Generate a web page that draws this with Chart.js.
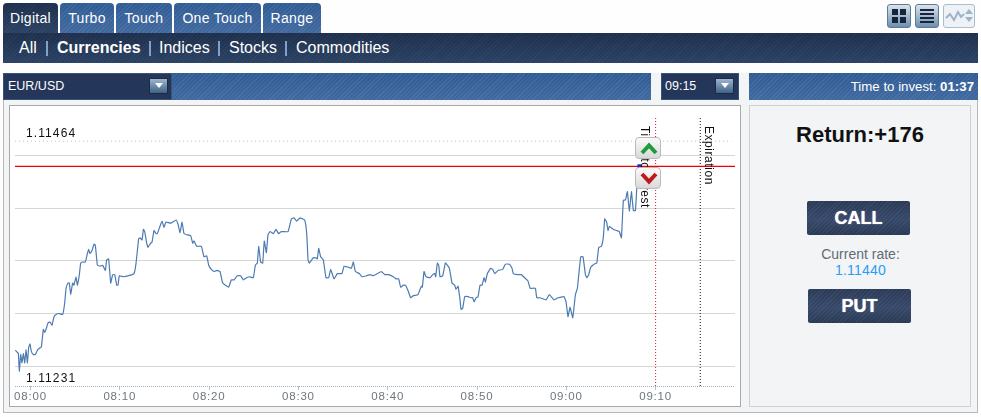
<!DOCTYPE html>
<html>
<head>
<meta charset="utf-8">
<script src="https://cdn.jsdelivr.net/npm/chart.js@4/dist/chart.umd.min.js"></script>
<style>
html, body { margin: 0; padding: 0; }
body { width: 981px; height: 417px; overflow: hidden; position: relative; background: #fefefe; font-family: "Liberation Sans", Arial, sans-serif; }
.abs { position: absolute; box-sizing: border-box; }
.stripe-blue { background: repeating-linear-gradient(135deg, rgba(255,255,255,.07) 0 1px, transparent 1px 3px), linear-gradient(#2f5c95, #41699f); }
.stripe-dark { background: repeating-linear-gradient(135deg, rgba(255,255,255,.035) 0 1px, transparent 1px 3px), linear-gradient(#1d2f4c, #2b4264); }
.tab { top: 3px; height: 30px; border-radius: 4px 4px 0 0; color: #fff; font-size: 14px; line-height: 30px; text-align: center; letter-spacing: .3px; }
.nav { top: 37px; color: #fff; font-size: 16px; line-height: 21px; white-space: nowrap; }
.sep { top: 41px; width: 2px; height: 15px; background: #7ea2c9; }
.drop { width: 19px; height: 16px; background: linear-gradient(#9db6cf, #3f6287); border: 1px solid #1b2b44; }
.drop:after { content: ""; position: absolute; left: 5px; top: 4px; border: 4px solid transparent; border-top: 5px solid #fff; border-bottom: 0; }
.icon { top: 4px; height: 24px; border-radius: 3px; border: 1px solid #5d7a98; background: linear-gradient(#dbe4ed, #6f8fae); }
.btn { width: 103px; height: 34px; border-radius: 2px; color: #fff; font-weight: bold; font-size: 18px; line-height: 34px; text-align: center; background: repeating-linear-gradient(135deg, rgba(255,255,255,.05) 0 1px, transparent 1px 3px), linear-gradient(#2b3b57, #37496a 55%, #2a3a55); text-shadow: 0 0 1px #fff; }
.arrow { left: 635px; width: 26px; height: 22px; border-radius: 4px; border: 1px solid #bbb; background: linear-gradient(#fafafa, #d9d9d9); }
.arrow svg { position: absolute; left: 4px; top: 3px; }
</style>
</head>
<body>
<div class="abs tab stripe-dark" style="left:3px;width:55px">Digital</div>
<div class="abs tab stripe-blue" style="left:60px;width:54px">Turbo</div>
<div class="abs tab stripe-blue" style="left:116px;width:56px">Touch</div>
<div class="abs tab stripe-blue" style="left:174px;width:87px">One Touch</div>
<div class="abs tab stripe-blue" style="left:263px;width:58px">Range</div>

<div class="abs icon" style="left:887px;width:24px"><svg width="22" height="22"><path d="M4 4h6v6H4zM12 4h6v6h-6zM4 12h6v6H4zM12 12h6v6h-6z" fill="#16243c"/></svg></div>
<div class="abs icon" style="left:915px;width:24px"><svg width="22" height="22"><path d="M4 4h14v2H4zM4 8h14v2H4zM4 12h14v2H4zM4 16h14v2H4z" fill="#16243c"/></svg></div>
<div class="abs icon" style="left:943px;width:32px;background:#eef2f6;border-color:#a9bdd0"><svg width="30" height="22"><path d="M2 13l4-4 4 6 4-8 3 5 3-3" fill="none" stroke="#9db3c8" stroke-width="2"/><path d="M21 9l4-5 4 5zM21 12l4 5 4-5z" fill="#9db3c8"/></svg></div>

<div class="abs stripe-dark" style="left:3px;top:33px;width:975px;height:30px"></div>
<div class="abs nav" style="left:19px">All</div>
<div class="abs sep" style="left:46px"></div>
<div class="abs nav" style="left:57px;font-weight:bold">Currencies</div>
<div class="abs sep" style="left:149px"></div>
<div class="abs nav" style="left:159px">Indices</div>
<div class="abs sep" style="left:218px"></div>
<div class="abs nav" style="left:229px">Stocks</div>
<div class="abs sep" style="left:285px"></div>
<div class="abs nav" style="left:296px">Commodities</div>

<div class="abs" style="left:3px;top:100px;width:975px;height:313px;background:#f3f4f6;border:1px solid #b8b8b8;border-top:0"></div>
<div class="abs stripe-blue" style="left:3px;top:73px;width:648px;height:27px"></div>
<div class="abs" style="left:651px;top:73px;width:98px;height:27px;background:#f3f4f6"></div>
<div class="abs stripe-blue" style="left:749px;top:73px;width:229px;height:27px"></div>
<div class="abs" style="left:3px;top:73px;width:169px;height:27px;background:#24375a;border:1px solid #3a5276"></div>
<div class="abs" style="left:8px;top:79px;color:#fff;font-size:12.5px;line-height:15px">EUR/USD</div>
<div class="abs drop" style="left:149px;top:78px"></div>
<div class="abs" style="left:661px;top:73px;width:78px;height:27px;background:#24375a;border:1px solid #3a5276"></div>
<div class="abs" style="left:665px;top:79px;color:#fff;font-size:12.5px;line-height:15px">09:15</div>
<div class="abs drop" style="left:715px;top:78px"></div>
<div class="abs" style="right:7px;top:79px;color:#fff;font-size:13.25px;line-height:15px">Time to invest: <b>01:37</b></div>

<div class="abs" style="left:9px;top:105px;width:732px;height:302px;background:#fff;border:1px solid #a8a8a8"></div>
<canvas id="rateChart" class="abs" width="730" height="300" style="left:10px;top:106px;width:730px;height:300px"></canvas>

<div class="abs arrow" style="top:137px"><svg width="18" height="15"><path d="M2 12L9 4.5 16 12" fill="none" stroke="#1f9a3c" stroke-width="4"/></svg></div>
<div class="abs arrow" style="top:167px"><svg width="18" height="15"><path d="M2 3L9 10.5 16 3" fill="none" stroke="#c0161c" stroke-width="4"/></svg></div>

<div class="abs" style="left:749px;top:105px;width:222px;height:302px;background:#f3f4f6;border:1px solid #cdd0d3"></div>
<div class="abs" style="left:749px;top:122px;width:222px;text-align:center;font-size:22px;font-weight:bold;color:#111;line-height:26px">Return:+176</div>
<div class="abs btn" style="left:807px;top:201px">CALL</div>
<div class="abs" style="left:749px;top:246px;width:223px;text-align:center;font-size:14px;color:#636b75;line-height:16px">Current rate:</div>
<div class="abs" style="left:749px;top:262px;width:223px;text-align:center;font-size:14px;color:#2a9df4;line-height:16px;letter-spacing:.2px">1.11440</div>
<div class="abs btn" style="left:808px;top:289px">PUT</div>

<script>
// minutes after 08:00
const minutes = [
  -1.70,-1.47,-1.36,-1.25,-1.10,-0.95,-0.80,-0.65,-0.50,-0.35,-0.20,-0.05,0.09,0.32,0.54,0.77,0.99,1.21,1.44,1.59,
  1.74,1.96,2.18,2.41,2.63,2.86,3.15,3.60,3.83,3.98,4.20,4.35,4.50,4.72,4.87,5.10,5.25,5.47,5.62,5.84,
  6.14,6.37,6.51,6.66,6.89,7.11,7.26,7.49,7.78,8.08,8.38,8.53,8.75,8.98,9.20,9.43,9.65,9.80,9.95,10.40,
  10.99,11.59,11.82,12.11,12.26,12.49,12.64,12.79,13.01,13.16,13.46,13.61,13.83,14.06,14.20,14.50,14.73,14.95,15.17,15.70,
  16.30,16.52,16.74,16.97,17.19,17.49,17.94,18.16,18.31,18.61,19.13,19.43,19.73,19.95,20.25,20.55,20.85,21.22,
  21.52,21.82,22.19,22.49,22.79,23.16,23.53,23.83,24.21,24.50,24.95,25.18,25.40,25.55,25.77,26.00,26.18,26.41,26.60,26.82,
  27.19,27.49,27.79,28.09,28.84,29.21,29.51,29.81,30.18,30.70,30.93,31.08,31.22,31.67,31.97,32.12,32.27,32.49,32.79,33.09,
  33.39,33.61,33.99,34.36,34.88,35.11,35.63,35.93,36.15,36.38,36.82,37.12,37.65,38.02,38.39,38.84,39.29,39.66,40.11,40.63,
  40.93,41.23,41.45,41.75,41.98,42.27,42.57,42.87,43.39,43.77,43.88,44.07,44.29,44.74,
  45.04,45.26,45.37,45.56,45.71,45.86,46.16,46.46,46.68,46.91,47.20,47.50,47.65,47.88,48.10,48.21,48.40,48.62,49.00,49.29,
  49.52,49.67,49.89,50.12,50.34,50.56,50.79,50.94,51.16,51.53,51.76,51.98,52.36,52.88,53.18,53.62,53.92,54.07,54.52,54.97,
  55.34,55.71,55.94,56.16,56.54,56.69,57.06,57.73,58.10,58.63,59.07,59.75,59.97,60.19,60.42,60.72,61.02,61.24,61.61,61.87,
  62.14,62.29,62.51,62.73,63.11,63.41,63.63,63.93,64.15,64.30,64.52,64.67,64.82,65.27,65.64,65.94,66.17,66.39,66.62,66.84,
  67.06,67.29,67.51,67.74,67.89,68.20
];
const rates = [
  1.11265,1.11263,1.11262,1.11245,1.11261,1.11253,1.11262,1.11253,1.11266,1.11253,1.11268,1.11271,1.11264,1.11261,1.11261,1.11265,1.11267,1.11268,1.11285,1.11282,
  1.11285,1.11291,1.11292,1.11289,1.11297,1.11299,1.11300,1.11299,1.11310,1.11324,1.11329,1.11329,1.11318,1.11329,1.11327,1.11335,1.11327,1.11337,1.11348,1.11349,
  1.11349,1.11357,1.11361,1.11357,1.11360,1.11366,1.11365,1.11346,1.11345,1.11346,1.11341,1.11351,1.11352,1.11329,1.11337,1.11337,1.11327,1.11327,1.11336,1.11335,
  1.11336,1.11338,1.11348,1.11371,1.11372,1.11370,1.11380,1.11378,1.11367,1.11363,1.11367,1.11368,1.11379,1.11376,1.11376,1.11383,1.11388,1.11382,1.11387,1.11386,
  1.11389,1.11385,1.11377,1.11387,1.11376,1.11375,1.11374,1.11367,1.11369,1.11364,1.11364,1.11354,1.11355,1.11346,1.11342,1.11340,1.11341,1.11340,
  1.11329,1.11327,1.11325,1.11332,1.11332,1.11336,1.11336,1.11332,1.11334,1.11335,1.11334,1.11346,1.11348,1.11364,1.11349,1.11348,1.11369,1.11358,1.11375,1.11378,
  1.11376,1.11380,1.11376,1.11378,1.11378,1.11390,1.11391,1.11388,1.11391,1.11389,1.11376,1.11351,1.11348,1.11353,1.11353,1.11352,1.11362,1.11354,1.11351,1.11334,
  1.11334,1.11342,1.11333,1.11338,1.11338,1.11345,1.11344,1.11343,1.11349,1.11340,1.11338,1.11335,1.11336,1.11337,1.11336,1.11338,1.11340,1.11337,1.11337,1.11335,
  1.11333,1.11333,1.11325,1.11327,1.11327,1.11322,1.11315,1.11317,1.11318,1.11326,1.11325,1.11340,1.11335,1.11334,
  1.11337,1.11338,1.11335,1.11348,1.11346,1.11335,1.11336,1.11348,1.11346,1.11343,1.11329,1.11327,1.11323,1.11326,1.11313,1.11304,1.11305,1.11316,1.11316,1.11315,
  1.11315,1.11311,1.11315,1.11316,1.11327,1.11327,1.11334,1.11330,1.11338,1.11343,1.11342,1.11338,1.11341,1.11342,1.11347,1.11347,1.11343,1.11338,1.11337,1.11337,
  1.11334,1.11331,1.11324,1.11324,1.11324,1.11315,1.11315,1.11313,1.11318,1.11313,1.11315,1.11316,1.11311,1.11297,1.11306,1.11296,1.11318,1.11324,1.11354,1.11354,
  1.11337,1.11334,1.11337,1.11344,1.11347,1.11348,1.11363,1.11364,1.11373,1.11390,1.11387,1.11379,1.11383,1.11380,1.11379,1.11378,1.11372,1.11408,1.11408,1.11416,
  1.11397,1.11416,1.11398,1.11398,1.11419,1.11440
];
const timeTicks = [0, 10, 20, 30, 40, 50, 60, 70];
const rateTicks = [1.1125, 1.113, 1.1135, 1.114, 1.1145];
const currentRate = 1.1144;
const highRate = 1.11464;
const lowRate = 1.11231;
const investMinute = 70;
const expiryMinute = 75;

const xMin = -1.736, xMax = 78.89, yMin = 1.11231, yMax = 1.11488;

function clock(m) {
  const h = 8 + Math.floor(m / 60);
  const mm = m % 60;
  return '0' + h + ':' + (mm < 10 ? '0' : '') + mm;
}

const ctx = document.getElementById('rateChart').getContext('2d');

const labelsPlugin = {
  id: 'labels',
  beforeDraw(chart) {
    // tick labels in the original are spaced out a bit
    chart.ctx.letterSpacing = '0.8px';
  },
  beforeDatasetsDraw(chart) {
    // border.dash does not reach the axis line, so the dotted axis goes here
    const c = chart.ctx, a = chart.chartArea;
    c.save();
    c.strokeStyle = '#9fb0c4';
    c.lineWidth = 1;
    c.setLineDash([1, 1]);
    c.beginPath();
    c.moveTo(a.left, a.bottom + 0.5);
    c.lineTo(a.right, a.bottom + 0.5);
    c.stroke();
    c.restore();
  },
  afterDatasetsDraw(chart) {
    const c = chart.ctx, x = chart.scales.x, y = chart.scales.y;
    c.save();
    c.fillStyle = '#111';
    c.font = '12px "Liberation Sans"';
    c.letterSpacing = '1.1px';
    c.textBaseline = 'middle';
    c.textAlign = 'left';
    c.fillText(highRate.toFixed(5), x.left + 11, y.getPixelForValue(highRate) - 8);
    c.fillText(lowRate.toFixed(5), x.left + 11, y.getPixelForValue(lowRate) - 7);
    c.letterSpacing = '0.55px';
    for (const [m, text] of [[investMinute, 'Time to invest'], [expiryMinute, 'Expiration']]) {
      c.save();
      c.translate(x.getPixelForValue(m) + (m === investMinute ? -11 : 8), chart.chartArea.top + 10);
      c.rotate(Math.PI / 2);
      c.fillText(text, 0, 0);
      c.restore();
    }
    c.restore();
    c.letterSpacing = '0.8px';
  }
};

const lastIndex = minutes.length - 1;

new Chart(ctx, {
  type: 'line',
  data: {
    datasets: [
      {
        data: minutes.map((m, i) => ({ x: m, y: rates[i] })),
        borderColor: '#4d7bb1', borderWidth: 1.2, tension: 0.1,
        pointStyle: 'rect',
        pointRadius: (c) => c.dataIndex === lastIndex ? 3 : 0,
        pointBackgroundColor: '#2222cc', pointBorderWidth: 0
      },
      { data: [{ x: xMin, y: currentRate }, { x: xMax, y: currentRate }], borderColor: '#f00000', borderWidth: 1.3, pointRadius: 0 },
      { data: [{ x: xMin, y: highRate }, { x: xMax - 0.4, y: highRate }], borderColor: '#c4c4c4', borderWidth: 1, borderDash: [1, 3], pointRadius: 0 },
      { data: [{ x: investMinute, y: yMin }, { x: investMinute, y: yMax }], borderColor: '#e01020', borderWidth: 1, borderDash: [1, 2], pointRadius: 0 },
      { data: [{ x: expiryMinute, y: yMin }, { x: expiryMinute, y: yMax }], borderColor: '#111', borderWidth: 1, borderDash: [1, 2], pointRadius: 0 }
    ]
  },
  options: {
    responsive: false,
    animation: false,
    devicePixelRatio: 1,
    layout: { padding: { left: 5, right: 5, top: 10, bottom: 0 } },
    plugins: { legend: { display: false }, tooltip: { enabled: false } },
    scales: {
      x: {
        type: 'linear',
        min: xMin,
        max: xMax,
        afterBuildTicks: (axis) => { axis.ticks = timeTicks.map(v => ({ value: v })); },
        afterFit: (axis) => { axis.height = 20; },
        ticks: {
          autoSkip: false, maxRotation: 0, padding: 0,
          color: '#6f7680', font: { family: 'Liberation Sans', size: 11.5 },
          callback: (v) => clock(v)
        },
        grid: { drawOnChartArea: false, tickLength: 4, color: '#b4c2d2' },
        border: { display: false }
      },
      y: {
        min: yMin,
        max: yMax,
        afterBuildTicks: (axis) => { axis.ticks = rateTicks.map(v => ({ value: v })); },
        afterFit: (axis) => { axis.width = 0; },
        ticks: { display: false },
        grid: { color: '#d6d6d6', drawTicks: false, lineWidth: 1 },
        border: { display: false }
      }
    }
  },
  plugins: [labelsPlugin]
});
</script>
</body>
</html>
